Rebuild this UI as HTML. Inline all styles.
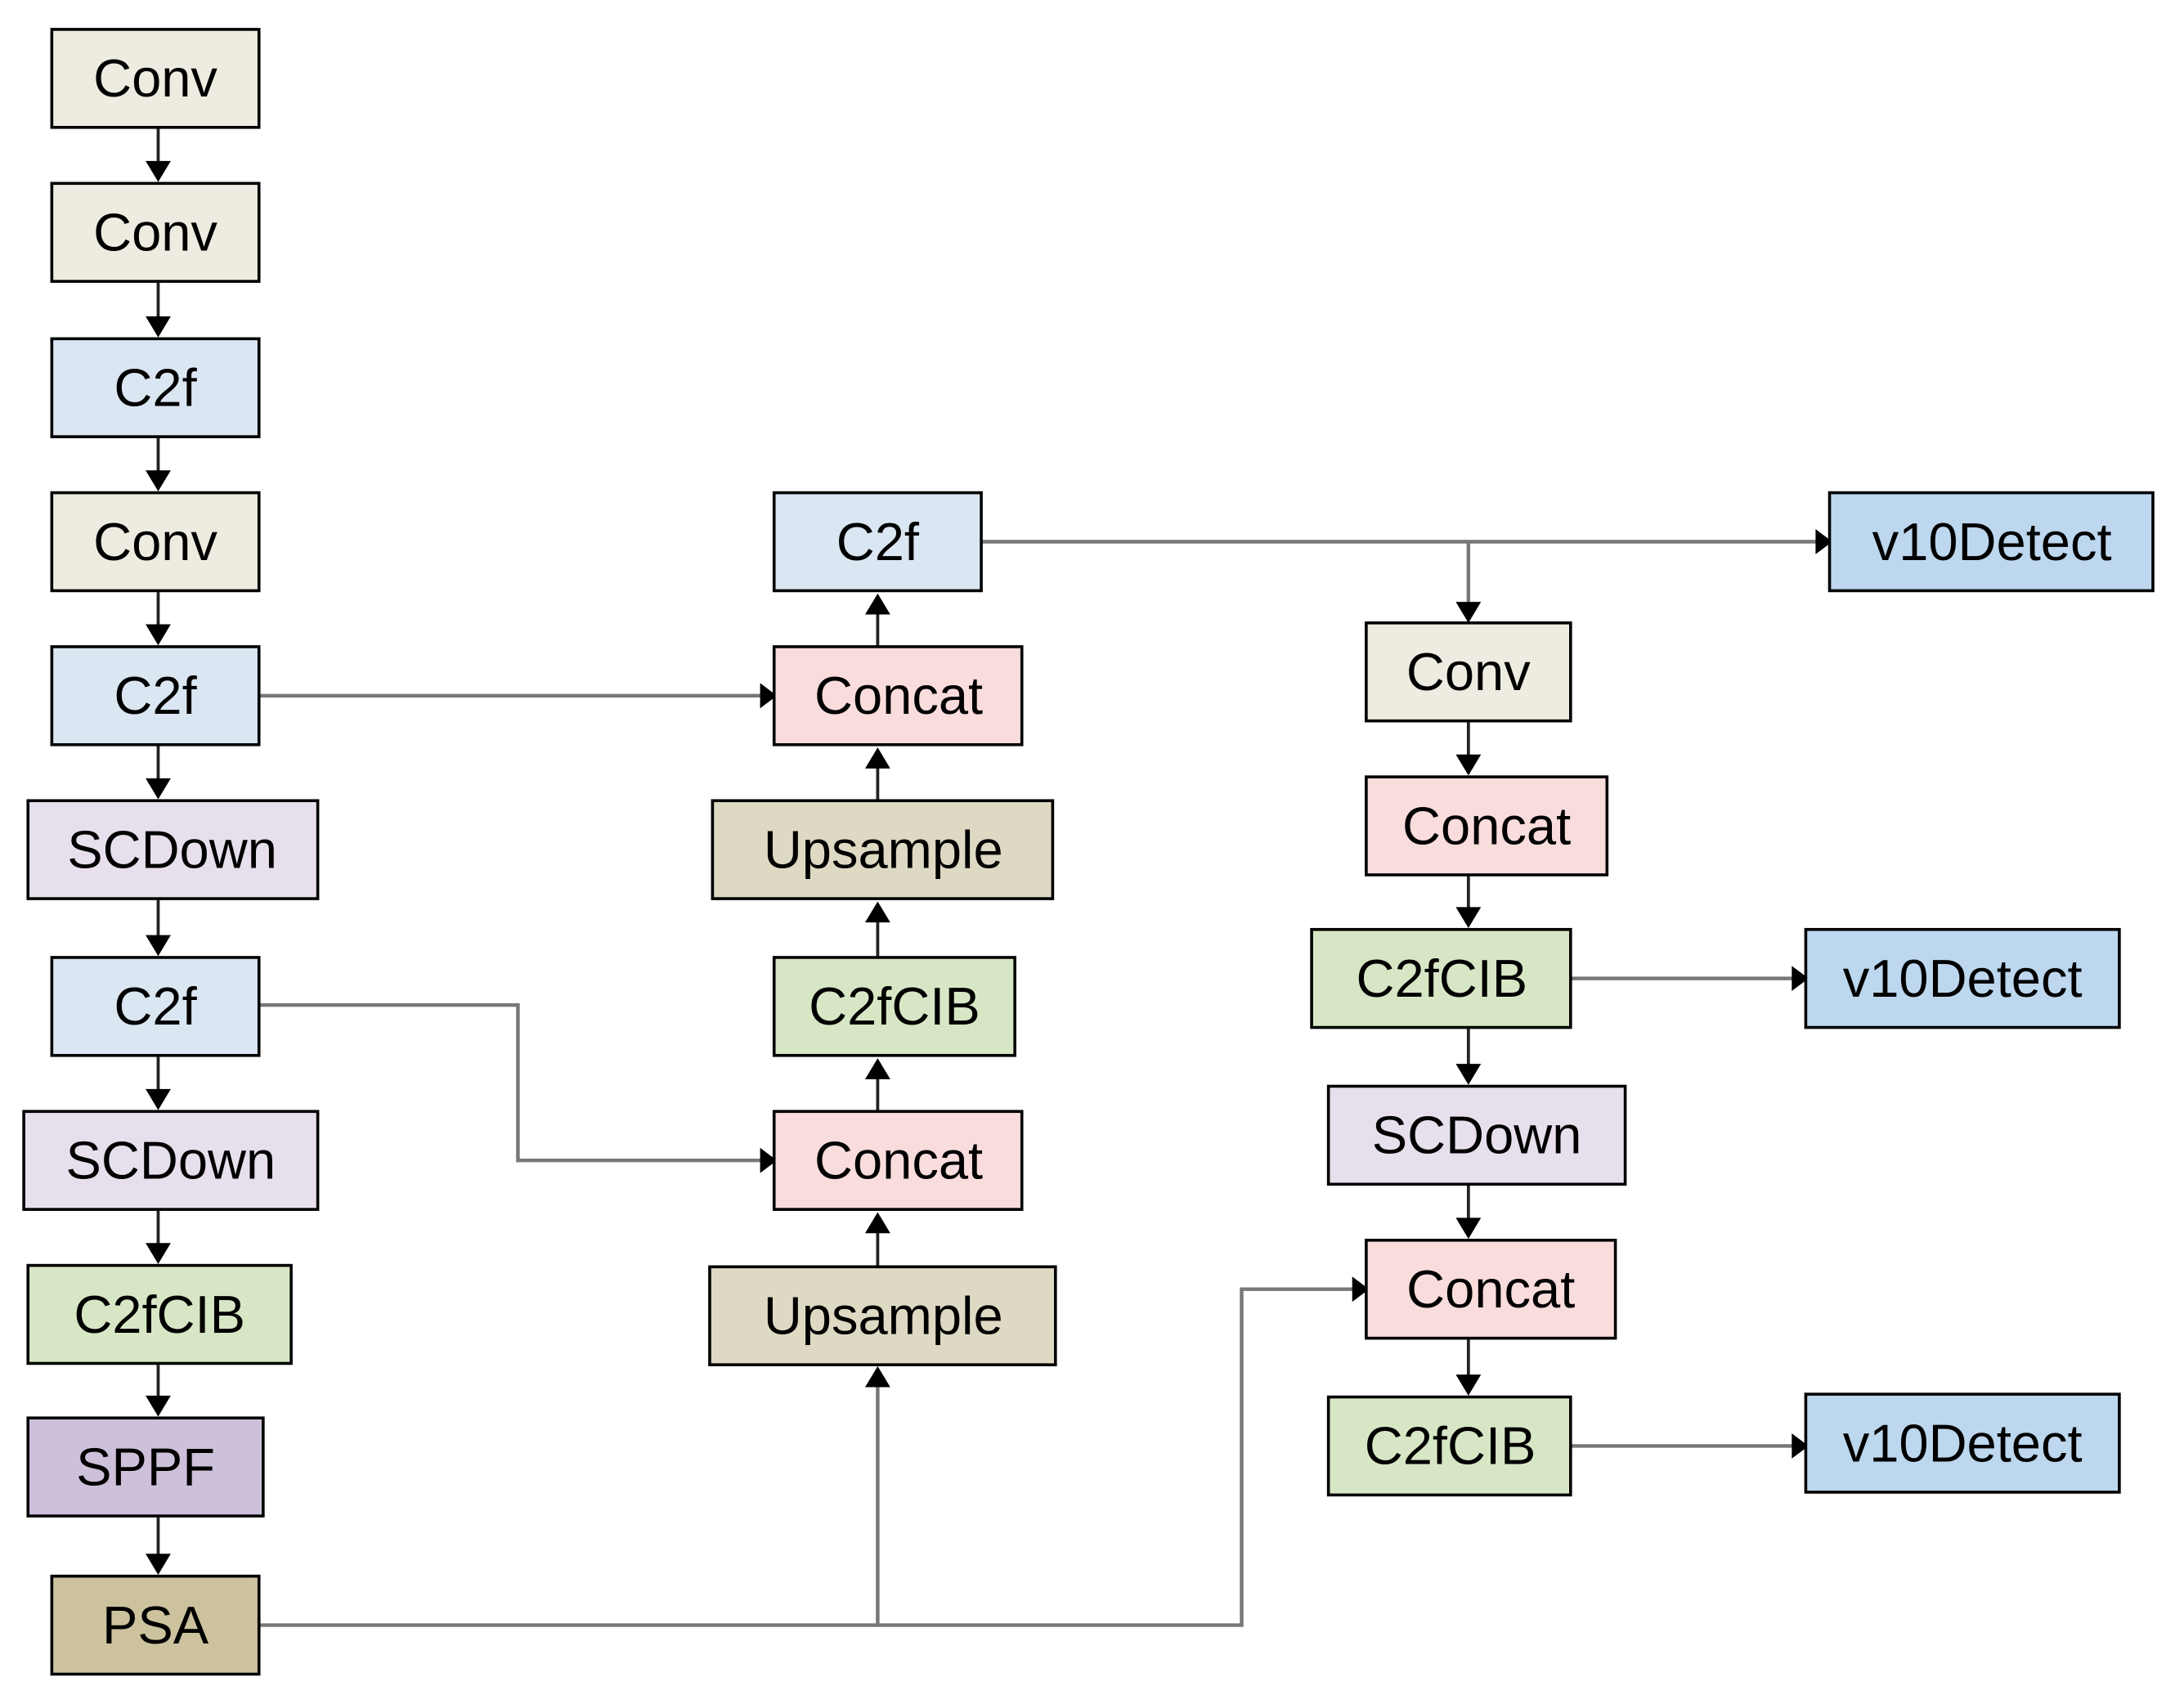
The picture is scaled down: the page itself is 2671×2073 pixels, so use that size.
<!DOCTYPE html>
<html><head><meta charset="utf-8"><style>html,body{margin:0;padding:0;background:#fff}svg{display:block}</style></head>
<body>
<svg width="2671" height="2073" viewBox="0 0 1560.2 1210.9" xmlns="http://www.w3.org/2000/svg" font-family="Liberation Sans, Arial, sans-serif">
<rect width="1560.2" height="1210.9" fill="#fff"/>
<g stroke="#777" stroke-width="2.6" fill="none">
<path d="M186,497H545"/>
<path d="M186,718H370V829H545"/>
<path d="M186,1161H887V921H968"/>
<path d="M627,1161V983"/>
<path d="M702,387H1299"/>
<path d="M1049,387V437"/>
<path d="M1122,699H1282"/>
<path d="M1122,1033H1282"/>
</g>
<g fill="#000">
<path d="M543,488L555,497L543,506z"/>
<path d="M543,820L555,829L543,838z"/>
<path d="M966,912L978,921L966,930z"/>
<path d="M1297,378L1309,387L1297,396z"/>
<path d="M1280,690L1292,699L1280,708z"/>
<path d="M1280,1024L1292,1033L1280,1042z"/>
<path d="M1040,430L1049,445L1058,430z"/>
<path d="M618,991L627,976L636,991z"/>
</g>
<g stroke="#222" stroke-width="2.2" fill="none">
<path d="M113,92V118"/><path d="M113,202V228"/><path d="M113,313V338"/><path d="M113,423V448"/><path d="M113,533V558"/><path d="M113,643V670"/><path d="M113,755V780"/><path d="M113,865V890"/><path d="M113,975V999"/><path d="M113,1084V1112"/>
<path d="M627,461V436"/><path d="M627,571V546"/><path d="M627,683V656"/><path d="M627,793V768"/><path d="M627,904V878"/>
<path d="M1049,516V541"/><path d="M1049,626V650"/><path d="M1049,735V762"/><path d="M1049,847V872"/><path d="M1049,957V984"/>
</g>
<g fill="#000">
<path d="M104,115L113,130L122,115z"/><path d="M104,226L113,241L122,226z"/><path d="M104,336L113,351L122,336z"/><path d="M104,446L113,461L122,446z"/><path d="M104,556L113,571L122,556z"/><path d="M104,668L113,683L122,668z"/><path d="M104,778L113,793L122,778z"/><path d="M104,888L113,903L122,888z"/><path d="M104,997L113,1012L122,997z"/><path d="M104,1110L113,1125L122,1110z"/>
<path d="M618,439L627,424L636,439z"/><path d="M618,549L627,534L636,549z"/><path d="M618,659L627,644L636,659z"/><path d="M618,771L627,756L636,771z"/><path d="M618,881L627,866L636,881z"/>
<path d="M1040,539L1049,554L1058,539z"/><path d="M1040,648L1049,663L1058,648z"/><path d="M1040,760L1049,775L1058,760z"/><path d="M1040,870L1049,885L1058,870z"/><path d="M1040,982L1049,997L1058,982z"/>
</g>
<g stroke="#000" stroke-width="2.1">
<rect x="37" y="21" width="148" height="70" fill="#EEECE1"/>
<rect x="37" y="131" width="148" height="70" fill="#EEECE1"/>
<rect x="37" y="242" width="148" height="70" fill="#DAE6F1"/>
<rect x="37" y="352" width="148" height="70" fill="#EEECE1"/>
<rect x="37" y="462" width="148" height="70" fill="#DAE6F1"/>
<rect x="20" y="572" width="207" height="70" fill="#E7E0EC"/>
<rect x="37" y="684" width="148" height="70" fill="#DAE6F1"/>
<rect x="17" y="794" width="210" height="70" fill="#E7E0EC"/>
<rect x="20" y="904" width="188" height="70" fill="#D7E7C5"/>
<rect x="20" y="1013" width="168" height="70" fill="#CCC0DA"/>
<rect x="37" y="1126" width="148" height="70" fill="#CCC29E"/>
<rect x="553" y="352" width="148" height="70" fill="#DAE6F1"/>
<rect x="553" y="462" width="177" height="70" fill="#F9DCDC"/>
<rect x="509" y="572" width="243" height="70" fill="#DDD9C3"/>
<rect x="553" y="684" width="172" height="70" fill="#D7E7C5"/>
<rect x="553" y="794" width="177" height="70" fill="#F9DCDC"/>
<rect x="507" y="905" width="247" height="70" fill="#DDD9C3"/>
<rect x="1307" y="352" width="231" height="70" fill="#BDD7EE"/>
<rect x="976" y="445" width="146" height="70" fill="#EEECE1"/>
<rect x="976" y="555" width="172" height="70" fill="#F9DCDC"/>
<rect x="937" y="664" width="185" height="70" fill="#D7E7C5"/>
<rect x="1290" y="664" width="224" height="70" fill="#BDD7EE"/>
<rect x="949" y="776" width="212" height="70" fill="#E7E0EC"/>
<rect x="976" y="886" width="178" height="70" fill="#F9DCDC"/>
<rect x="949" y="998" width="173" height="70" fill="#D7E7C5"/>
<rect x="1290" y="996" width="224" height="70" fill="#BDD7EE"/>
</g>
<g font-size="38" text-anchor="middle" fill="#000">
<text x="111" y="69">Conv</text>
<text x="111" y="179">Conv</text>
<text x="111" y="290">C2f</text>
<text x="111" y="400">Conv</text>
<text x="111" y="510">C2f</text>
<text x="123" y="620">SCDown</text>
<text x="111" y="732">C2f</text>
<text x="122" y="842">SCDown</text>
<text x="114" y="952">C2fCIB</text>
<text x="104" y="1061">SPPF</text>
<text x="111" y="1174">PSA</text>
<text x="627" y="400">C2f</text>
<text x="642" y="510">Concat</text>
<text x="631" y="620">Upsample</text>
<text x="639" y="732">C2fCIB</text>
<text x="642" y="842">Concat</text>
<text x="631" y="953">Upsample</text>
<text x="1423" y="400">v10Detect</text>
<text x="1049" y="493">Conv</text>
<text x="1062" y="603">Concat</text>
<text x="1030" y="712">C2fCIB</text>
<text x="1402" y="712">v10Detect</text>
<text x="1055" y="824">SCDown</text>
<text x="1065" y="934">Concat</text>
<text x="1036" y="1046">C2fCIB</text>
<text x="1402" y="1044">v10Detect</text>
</g>
</svg>
</body></html>
